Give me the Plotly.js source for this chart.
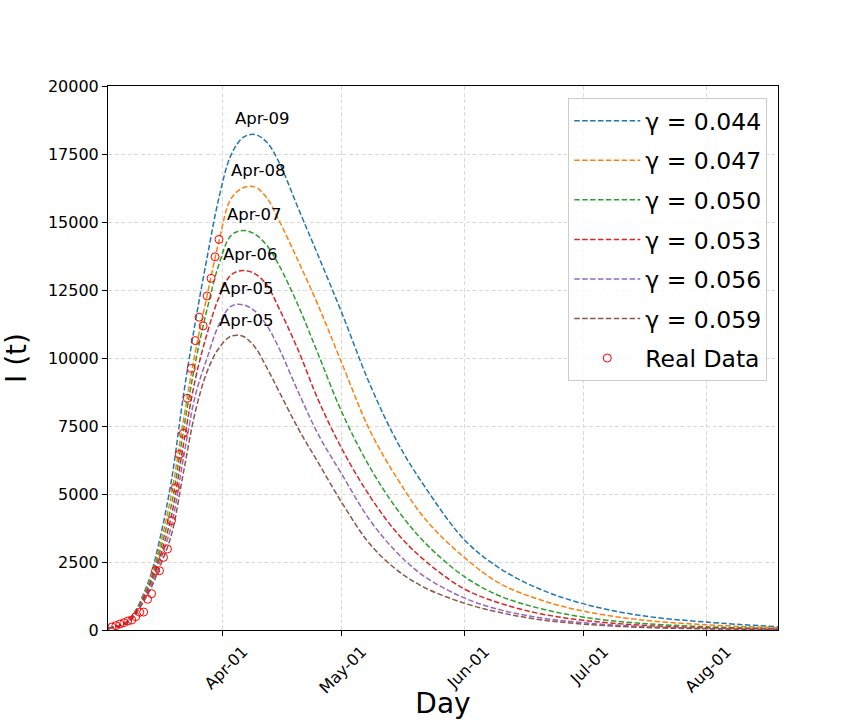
<!DOCTYPE html>
<html>
<head>
<meta charset="utf-8">
<script src="https://cdn.plot.ly/plotly-3.0.1.min.js"></script>
<style>body{margin:0;background:#fff}</style>
</head>
<body>
<div id="chartContainer" style="width:864px;height:720px"></div>
<script>
// sample days
var sampleDays = ['2020-03-03','2020-03-08','2020-03-13','2020-03-16','2020-03-19','2020-03-22',
  '2020-03-25','2020-03-28','2020-03-31','2020-04-03','2020-04-06','2020-04-09','2020-04-12',
  '2020-04-15','2020-04-20','2020-04-25','2020-05-01','2020-05-08','2020-05-15','2020-05-22',
  '2020-06-01','2020-06-10','2020-06-20','2020-07-01','2020-07-15','2020-08-01','2020-08-19'];

var gammaLabels = ['0.044','0.047','0.050','0.053','0.056','0.059'];
var peakLabels = ['Apr-09','Apr-08','Apr-07','Apr-06','Apr-05','Apr-05'];
var peakDates = ['2020-04-09','2020-04-08','2020-04-07','2020-04-06','2020-04-05','2020-04-05'];

var curve044 = [70,340,1700,3300,5500,8600,11300,13700,15900,17450,18100,18220,17940,17240,15500,13770,11650,9050,6900,5250,3300,2250,1500,960,540,290,120];
var curve047 = [70,330,1620,3050,5000,7700,10200,12300,14300,15850,16250,16290,15900,15100,13560,11940,9800,7350,5560,4080,2650,1700,1110,690,380,190,80];
var curve050 = [70,320,1550,2850,4600,7300,9800,11800,13450,14500,14690,14560,14150,13450,11920,10150,8000,6000,4420,3200,1950,1240,790,470,250,120,50];
var curve053 = [70,305,1480,2650,4200,6800,9200,10900,12230,13050,13220,13105,12700,11870,10280,8470,6660,4930,3550,2540,1500,980,600,355,180,80,32];
var curve056 = [70,295,1400,2480,3850,6300,8600,10000,11230,11900,11960,11730,11210,10400,8750,7200,5720,4050,2830,1950,1170,740,450,265,135,57,22];
var curve059 = [70,280,1300,2300,3500,5770,8010,9500,10370,10800,10800,10415,9660,8810,7400,6160,4680,3170,2190,1550,980,640,380,215,100,42,15];

var realDays = ['2020-03-04','2020-03-05','2020-03-06','2020-03-07','2020-03-08','2020-03-09','2020-03-10',
  '2020-03-11','2020-03-12','2020-03-13','2020-03-14','2020-03-15','2020-03-16','2020-03-17','2020-03-18',
  '2020-03-19','2020-03-20','2020-03-21','2020-03-22','2020-03-23','2020-03-24','2020-03-25','2020-03-26',
  '2020-03-27','2020-03-28','2020-03-29','2020-03-30','2020-03-31'];
var realCases = [110,160,220,270,330,370,490,650,660,1130,1335,2180,2180,2670,2980,4020,5230,6460,7230,8520,9620,10640,11500,11180,12280,12930,13720,14360];

var curves = [curve044, curve047, curve050, curve053, curve056, curve059];
var colors = ['#1f77b4','#ff7f0e','#2ca02c','#d62728','#9467bd','#8c564b'];

var data = [];
var annotations = [];
for (var i = 0; i < curves.length; i++) {
  data.push({
    x: sampleDays,
    y: curves[i],
    name: 'γ = ' + gammaLabels[i],
    type: 'scatter',
    mode: 'lines',
    legendgroup: 'g' + i,
    line: {color: colors[i], width: 1.5, dash: '5.5px,2.4px', shape: 'spline', smoothing: 1}
  });
  annotations.push({
    x: peakDates[i],
    y: Math.max.apply(null, curves[i]),
    text: peakLabels[i],
    showarrow: false,
    xshift: 7,
    yshift: 16,
    font: {family: 'DejaVu Sans', size: 16.5, color: '#000'}
  });
}
data.push({
  x: realDays,
  y: realCases,
  name: 'Real Data',
  type: 'scatter',
  mode: 'markers',
  legendgroup: 'real',
  marker: {symbol: 'circle-open', color: 'red', size: 8, line: {width: 1}}
});

var axisCommon = {
  showline: true,
  mirror: true,
  linecolor: '#000',
  linewidth: 1,
  ticks: 'outside',
  ticklen: 5,
  tickcolor: '#000',
  showgrid: true,
  gridcolor: '#d9d9d9',
  griddash: '4px,2.5px',
  gridwidth: 0.8,
  zeroline: false,
  tickfont: {family: 'DejaVu Sans', size: 16, color: '#000'}
};

var layout = {
  width: 864,
  height: 720,
  margin: {l: 108, r: 86, t: 86, b: 90},
  paper_bgcolor: '#fff',
  plot_bgcolor: '#fff',
  font: {family: 'DejaVu Sans', color: '#000'},
  showlegend: true,
  legend: {
    x: 0.984, y: 0.978, xanchor: 'right', yanchor: 'top',
    bgcolor: 'rgba(255,255,255,0.8)',
    bordercolor: '#cccccc',
    borderwidth: 1,
    tracegroupgap: 6,
    itemwidth: 66,
    font: {family: 'DejaVu Sans', size: 23.5, color: '#000'}
  },
  annotations: annotations,
  xaxis: Object.assign({}, axisCommon, {
    type: 'date',
    range: ['2020-03-03', '2020-08-19'],
    tick0: '2020-01-01',
    dtick: 'M1',
    tickformat: '%b-%d',
    tickangle: -45,
    ticklabelshift: 20,
    title: {text: 'Day', font: {family: 'DejaVu Sans', size: 28, color: '#000'}, standoff: 4}
  }),
  yaxis: Object.assign({}, axisCommon, {
    range: [0, 20000],
    dtick: 2500,
    tickformat: 'd',
    title: {text: 'I (t)', font: {family: 'DejaVu Sans', size: 28, color: '#000'}, standoff: 14}
  })
};

Plotly.newPlot('chartContainer', data, layout, {displayModeBar: false});
</script>
</body>
</html>
